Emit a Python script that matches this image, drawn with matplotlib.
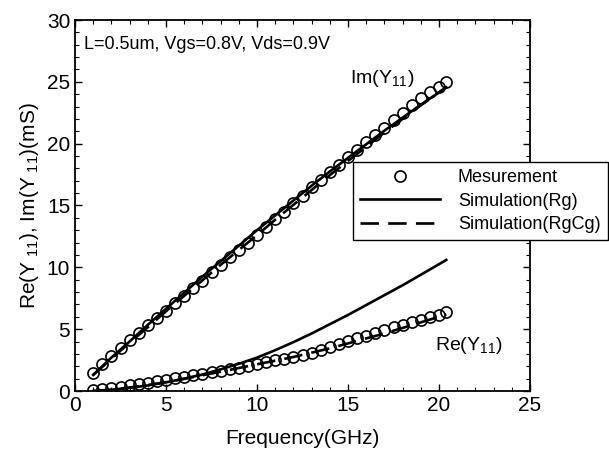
import matplotlib
matplotlib.use("Agg")
import matplotlib.pyplot as plt
from matplotlib.ticker import MultipleLocator

plt.rcParams['font.family'] = ['Liberation Sans', 'DejaVu Sans']
plt.rcParams['mathtext.fontset'] = 'custom'
plt.rcParams['mathtext.rm'] = 'Liberation Sans'

# measured points (GHz, mS)
freq_meas = [1.0, 1.5, 2.0, 2.5, 3.0, 3.5, 4.0, 4.5, 5.0, 5.5,
             6.0, 6.5, 7.0, 7.5, 8.0, 8.5, 9.0, 9.5, 10.0, 10.5,
             11.0, 11.5, 12.0, 12.5, 13.0, 13.5, 14.0, 14.5, 15.0, 15.5,
             16.0, 16.5, 17.0, 17.5, 18.0, 18.5, 19.0, 19.5, 20.0, 20.4]
im_meas = [1.45, 2.2, 2.8, 3.5, 4.1, 4.7, 5.3, 5.9, 6.5, 7.1,
           7.7, 8.3, 8.9, 9.6, 10.2, 10.8, 11.4, 12.0, 12.6, 13.3,
           13.9, 14.5, 15.2, 15.8, 16.5, 17.1, 17.7, 18.3, 18.9, 19.5,
           20.1, 20.7, 21.3, 21.9, 22.5, 23.1, 23.7, 24.2, 24.6, 25.0]
re_meas = [0.05, 0.15, 0.22, 0.33, 0.45, 0.57, 0.68, 0.8, 0.9, 1.02,
           1.15, 1.28, 1.4, 1.52, 1.65, 1.78, 1.9, 2.03, 2.17, 2.32,
           2.47, 2.62, 2.77, 2.92, 3.1, 3.3, 3.55, 3.8, 4.05, 4.25,
           4.45, 4.65, 4.9, 5.15, 5.35, 5.55, 5.75, 5.95, 6.15, 6.4]

# simulated curves
freq_sim = [1, 2, 3, 4, 5, 6, 7, 8, 9, 10, 11, 12, 13, 14, 15, 16, 17, 18, 19, 20, 20.4]
im_rg = [1.3, 2.7, 4.0, 5.35, 6.65, 7.95, 9.25, 10.5, 11.75, 13.0,
         14.2, 15.4, 16.6, 17.75, 18.85, 19.95, 21.05, 22.1, 23.15, 24.15, 24.55]
im_rgcg = [1.3, 2.6, 3.9, 5.15, 6.45, 7.7, 8.95, 10.2, 11.4, 12.6,
           13.85, 15.05, 16.25, 17.45, 18.6, 19.75, 20.9, 22.0, 23.1, 24.15, 24.55]
re_rg = [0.0, 0.1, 0.25, 0.45, 0.7, 1.0, 1.33, 1.75, 2.2, 2.7,
         3.3, 3.95, 4.65, 5.4, 6.15, 6.95, 7.75, 8.55, 9.4, 10.25, 10.6]
re_rgcg = [0.0, 0.1, 0.28, 0.48, 0.72, 0.98, 1.27, 1.56, 1.86, 2.16,
           2.45, 2.75, 3.1, 3.45, 3.85, 4.25, 4.65, 5.1, 5.55, 6.0, 6.2]

fig = plt.figure(figsize=(6.09, 4.61), dpi=100)
ax = fig.add_axes([75/609, 1-391/461, 455/609, 371/461])

dash = (0, (7, 3.5))
ax.plot(freq_sim, im_rg, color='black', lw=1.9, label='Simulation(Rg)')
ax.plot(freq_sim, re_rg, color='black', lw=1.9)
ax.plot(freq_sim, im_rgcg, color='black', lw=1.9, ls=dash, label='Simulation(RgCg)')
ax.plot(freq_sim, re_rgcg, color='black', lw=1.9, ls=dash)
ax.plot(freq_meas, im_meas, 'o', ms=8, mfc='none', mec='black', mew=1.2, label='Mesurement')
ax.plot(freq_meas, re_meas, 'o', ms=8, mfc='none', mec='black', mew=1.2)

ax.set_xlim(0, 25)
ax.set_ylim(0, 30)
ax.xaxis.set_major_locator(MultipleLocator(5))
ax.xaxis.set_minor_locator(MultipleLocator(1))
ax.yaxis.set_major_locator(MultipleLocator(5))
ax.yaxis.set_minor_locator(MultipleLocator(1))
ax.tick_params(which='both', direction='in', top=True, right=True, labelsize=15)
ax.tick_params(which='major', length=5, width=1)
ax.tick_params(which='minor', length=3, width=0.8)
for s in ax.spines.values():
    s.set_linewidth(1.3)

ax.set_xlabel('Frequency(GHz)', fontsize=15, labelpad=10)
ax.set_ylabel('Re(Y$_{\\ 11}$), Im(Y$_{\\ 11}$)(mS)', fontsize=15, labelpad=4)

ax.text(0.5, 28.0, 'L=0.5um, Vgs=0.8V, Vds=0.9V', fontsize=13, va='center')
ax.text(15.1, 25.3, 'Im(Y$_{11}$)', fontsize=14, va='center')
ax.text(19.8, 3.7, 'Re(Y$_{11}$)', fontsize=14, va='center')

h, l = ax.get_legend_handles_labels()
order = [2, 0, 1]
leg = ax.legend([h[i] for i in order], [l[i] for i in order],
                loc='upper left', bbox_to_anchor=(353/609, 1-162/461),
                bbox_transform=fig.transFigure, borderaxespad=0,
                fontsize=13, handlelength=4.4, handletextpad=1.0,
                labelspacing=0.35, numpoints=1, fancybox=False,
                framealpha=1, edgecolor='black')
leg.get_frame().set_linewidth(1.0)

fig.savefig('out.png', dpi=100)
